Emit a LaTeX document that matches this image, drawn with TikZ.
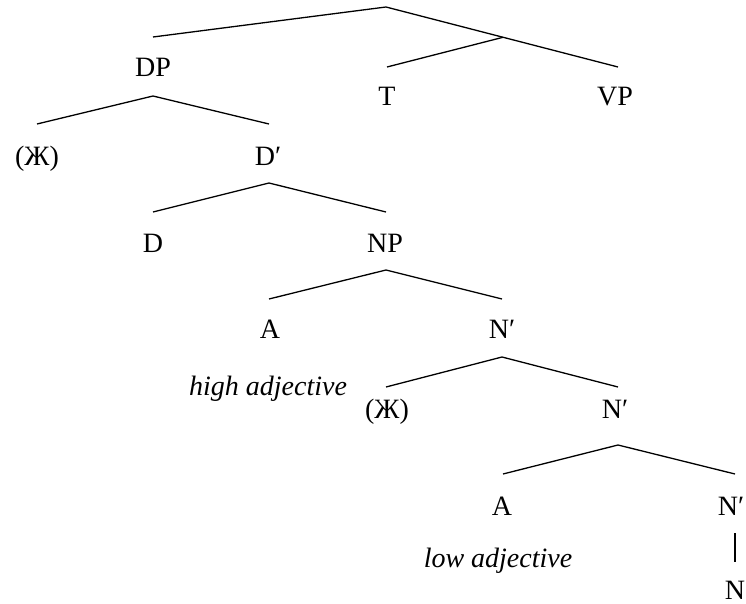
\documentclass[tikz,border=0pt]{standalone}
\usepackage{fontspec}
\setmainfont{Liberation Serif}
\newfontfamily\tmsfont{Liberation Serif}
\begin{document}
\begin{tikzpicture}[x=1pt,y=-1pt,
  lab/.style={anchor=base, inner sep=0pt, font=\tmsfont\fontsize{28}{34}\selectfont},
  note/.style={lab, font=\tmsfont\fontsize{28}{34}\selectfont\itshape},
  br/.style={line width=1.3pt, line join=miter}]
\useasboundingbox (0,0) rectangle (746,604);
% coordinates of branches
\coordinate (root) at (386,7);
\coordinate (rootL) at (153,37);
\coordinate (rootR) at (618,67);
\coordinate (tj) at (503,37.3);
\coordinate (tL) at (387,67);
\coordinate (dpA) at (153,96);
\coordinate (dpL) at (37,124);
\coordinate (dpR) at (269,124);
\coordinate (dbA) at (269,183);
\coordinate (dbL) at (153,212);
\coordinate (dbR) at (386,212);
\coordinate (npA) at (386,270);
\coordinate (npL) at (269,299);
\coordinate (npR) at (502,299);
\coordinate (naA) at (502,357);
\coordinate (naL) at (386,387);
\coordinate (naR) at (618,387);
\coordinate (nbA) at (618,445);
\coordinate (nbL) at (503,474);
\coordinate (nbR) at (735,474);
\coordinate (vT) at (735,533);
\coordinate (vB) at (735,562);
% labels
\node[lab] (DP) at (153,77) {DP};
\node[lab] (T) at (387,106) {T};
\node[lab] (VP) at (615,106) {VP};
\node[lab] (Zh1) at (37,165) {(Ж)};
\node[lab] (Db) at (268,165) {D′};
\node[lab] (D) at (153,252) {D};
\node[lab] (NP) at (385,252) {NP};
\node[lab] (A1) at (270,338) {A};
\node[lab] (Nb1) at (502,338) {N′};
\node[note] (high) at (268,395) {high adjective};
\node[lab] (Zh2) at (387,418) {(Ж)};
\node[lab] (Nb2) at (615,418) {N′};
\node[lab] (A2) at (502,515) {A};
\node[lab] (Nb3) at (731,515) {N′};
\node[note] (low) at (498,567) {low adjective};
\node[lab] (N) at (735,599) {N};
% branches
\draw[br] (rootL) -- (root) -- (rootR);
\draw[br] (tL) -- (tj);
\draw[br] (dpL) -- (dpA) -- (dpR);
\draw[br] (dbL) -- (dbA) -- (dbR);
\draw[br] (npL) -- (npA) -- (npR);
\draw[br] (naL) -- (naA) -- (naR);
\draw[br] (nbL) -- (nbA) -- (nbR);
\draw[br] (vT) -- (vB);
\end{tikzpicture}
\end{document}
